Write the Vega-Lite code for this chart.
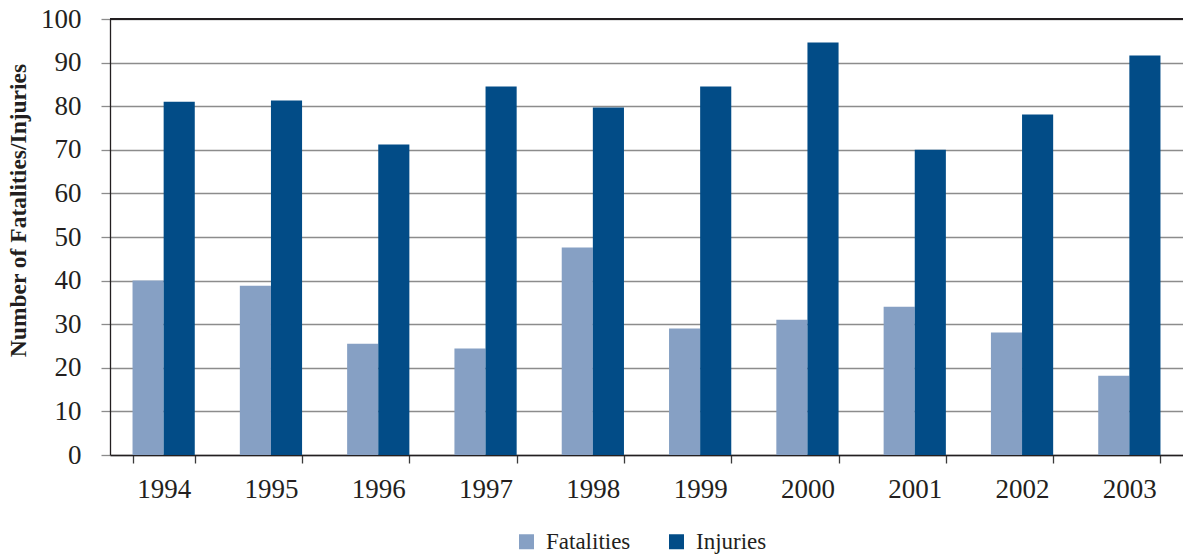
{
  "$schema": "https://vega.github.io/schema/vega-lite/v6.json",
  "width": 1073,
  "height": 436,
  "autosize": {"type": "none"},
  "padding": {"left": 110, "top": 19, "right": 0, "bottom": 100},
  "background": "white",
  "config": {
    "view": {"stroke": null},
    "font": "Liberation Serif",
    "axis": {
      "labelFont": "Liberation Serif",
      "titleFont": "Liberation Serif",
      "labelColor": "#231f20",
      "titleColor": "#231f20",
      "domainColor": "#231f20",
      "domainWidth": 1.3
    },
    "legend": {"labelFont": "Liberation Serif"}
  },
  "data": {
    "values": [
      {"year": "1994", "type": "Fatalities", "value": 40.0},
      {"year": "1994", "type": "Injuries", "value": 81.0},
      {"year": "1995", "type": "Fatalities", "value": 38.8},
      {"year": "1995", "type": "Injuries", "value": 81.3},
      {"year": "1996", "type": "Fatalities", "value": 25.5},
      {"year": "1996", "type": "Injuries", "value": 71.2},
      {"year": "1997", "type": "Fatalities", "value": 24.4},
      {"year": "1997", "type": "Injuries", "value": 84.5},
      {"year": "1998", "type": "Fatalities", "value": 47.6},
      {"year": "1998", "type": "Injuries", "value": 79.7},
      {"year": "1999", "type": "Fatalities", "value": 29.0},
      {"year": "1999", "type": "Injuries", "value": 84.5},
      {"year": "2000", "type": "Fatalities", "value": 31.0},
      {"year": "2000", "type": "Injuries", "value": 94.6},
      {"year": "2001", "type": "Fatalities", "value": 34.0},
      {"year": "2001", "type": "Injuries", "value": 70.0},
      {"year": "2002", "type": "Fatalities", "value": 28.1},
      {"year": "2002", "type": "Injuries", "value": 78.1},
      {"year": "2003", "type": "Fatalities", "value": 18.2},
      {"year": "2003", "type": "Injuries", "value": 91.6}
    ]
  },
  "layer": [
    {
      "mark": {"type": "bar"},
      "encoding": {
        "x": {
          "field": "year",
          "type": "ordinal",
          "scale": {"paddingInner": 0.42, "paddingOuter": 0.21},
          "axis": {
            "title": null,
            "labelAngle": 0,
            "labelFontSize": 27,
            "labelPadding": 13,
            "tickBand": "extent",
            "tickColor": "#3a3a3a",
            "tickSize": 8,
            "tickWidth": 1.3,
            "domainColor": "#231f20"
          }
        },
        "xOffset": {
          "field": "type",
          "type": "nominal",
          "sort": ["Fatalities", "Injuries"],
          "scale": {"paddingInner": 0, "paddingOuter": 0}
        },
        "y": {
          "field": "value",
          "type": "quantitative",
          "scale": {"domain": [0, 100], "nice": false},
          "axis": {
            "title": "Number of Fatalities/Injuries",
            "titleFontSize": 23.5,
            "titleFontWeight": "bold",
            "titleX": -92,
            "titleY": 191,
            "titleAngle": -90,
            "titleAlign": "center",
            "titleBaseline": "middle",
            "values": [0, 10, 20, 30, 40, 50, 60, 70, 80, 90, 100],
            "labelFontSize": 27,
            "labelPadding": 20,
            "tickSize": 9,
            "tickColor": "#8c8c8c",
            "tickWidth": 1.3,
            "grid": true,
            "gridColor": "#8c8c8c",
            "gridWidth": 1.3
          }
        },
        "color": {
          "field": "type",
          "type": "nominal",
          "scale": {
            "domain": ["Fatalities", "Injuries"],
            "range": ["#86a0c4", "#024c87"]
          },
          "legend": {
            "title": null,
            "orient": "none",
            "direction": "horizontal",
            "legendX": 405,
            "legendY": 511,
            "symbolType": "square",
            "symbolSize": 225,
            "symbolStrokeWidth": 0,
            "labelFontSize": 23,
            "labelColor": "#231f20",
            "labelOffset": 8,
            "columnPadding": 34
          }
        }
      }
    },
    {
      "mark": {"type": "rule", "color": "#231f20", "strokeWidth": 1.3},
      "encoding": {"y": {"datum": 100}}
    }
  ]
}
